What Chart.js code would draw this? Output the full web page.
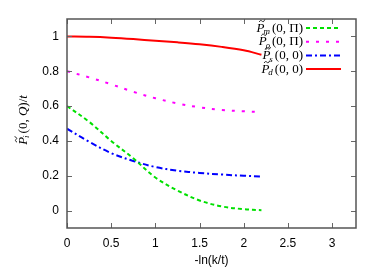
<!DOCTYPE html>
<html>
<head>
<meta charset="utf-8">
<script src="https://cdn.jsdelivr.net/npm/chart.js@4"></script>
<style>
  html, body { margin: 0; padding: 0; background: #fff; }
  #wrap { width: 382px; height: 268px; }
</style>
</head>
<body>
<div id="wrap"><canvas id="myChart" width="382" height="268"></canvas></div>
<script>
// Dados
const xVals = [0, 0.25, 0.5, 0.75, 1.0, 1.25, 1.5, 1.75, 2.0, 2.2];
const pm = [0.60, 0.51, 0.40, 0.30, 0.19, 0.115, 0.058, 0.024, 0.008, 0.002];
const prho = [0.80, 0.765, 0.725, 0.682, 0.645, 0.615, 0.593, 0.578, 0.570, 0.565];
const ps = [0.47, 0.395, 0.33, 0.285, 0.25, 0.229, 0.216, 0.207, 0.200, 0.196];
const pd = [1.0, 0.998, 0.993, 0.985, 0.975, 0.966, 0.955, 0.94, 0.92, 0.895];
const xTicks = [0, 0.5, 1, 1.5, 2, 2.5, 3];
const yTicks = [0, 0.2, 0.4, 0.6, 0.8, 1];

const pts = arr => arr.map((v, i) => ({ x: xVals[i], y: v }));

// rótulos da legenda: [índice, partes do argumento (texto, itálico)]
const legendLabels = [
    ['m', [['(0, \u03A0)', false]]],
    ['\u03C1', [['(0, \u03A0)', false]]],
    ['s', [['(0, 0)', false]]],
    ['d', [['(0, 0)', false]]]
];
const yTitle = ['i', [['(0, ', false], ['Q', true], [')/', false], ['t', true]]];

const data = {
    datasets: [
        { data: pts(pm), borderColor: '#00e000', borderDash: [4, 3], borderWidth: 2 },
        { data: pts(prho), borderColor: '#ff00ff', borderDash: [3, 7], borderWidth: 2 },
        { data: pts(ps), borderColor: '#0000ff', borderDash: [6, 3, 2, 3], borderWidth: 2 },
        { data: pts(pd), borderColor: '#ff0000', borderWidth: 2 }
    ]
};

const serif = '"Liberation Serif", "DejaVu Serif", serif';

// escreve P̃ com subíndice
function drawP(ctx, sub, parts, x, y, size, align) {
    const it = 'italic ' + size + 'px ' + serif;
    const up = size + 'px ' + serif;
    const small = 'italic ' + Math.round(size * 0.72) + 'px ' + serif;
    ctx.font = it;
    const wP = ctx.measureText('P').width;
    ctx.font = small;
    const wSub = ctx.measureText(sub).width;
    let wArg = 0;
    parts.forEach(p => { ctx.font = p[1] ? it : up; wArg += ctx.measureText(p[0]).width; });
    const total = wP + wSub + 1 + wArg;
    let x0 = align === 'right' ? x - total : (align === 'center' ? x - total / 2 : x);
    ctx.textBaseline = 'alphabetic';
    ctx.textAlign = 'left';
    const base = y + size * 0.35;
    ctx.font = it;
    ctx.fillText('P', x0, base);
    // til sobre o P
    const tx = x0 + wP * 0.35, ty = base - size * 0.83, tw = size * 0.42, th = size * 0.09;
    ctx.save();
    ctx.lineWidth = 0.9;
    ctx.strokeStyle = ctx.fillStyle;
    ctx.beginPath();
    ctx.moveTo(tx, ty + th);
    ctx.bezierCurveTo(tx + tw * 0.25, ty - th * 1.5, tx + tw * 0.5, ty + th * 0.5, tx + tw * 0.6, ty + th * 0.6);
    ctx.bezierCurveTo(tx + tw * 0.75, ty + th * 1.5, tx + tw * 0.9, ty, tx + tw, ty - th);
    ctx.stroke();
    ctx.restore();
    ctx.font = small;
    ctx.fillText(sub, x0 + wP - 1, base + size * 0.2);
    let cx = x0 + wP + wSub + 1;
    parts.forEach(p => {
        ctx.font = p[1] ? it : up;
        ctx.fillText(p[0], cx, base);
        cx += ctx.measureText(p[0]).width;
    });
}

const decor = {
    id: 'decor',
    afterDraw(chart) {
        const ctx = chart.ctx;
        const a = chart.chartArea;
        const xs = chart.scales.x, ys = chart.scales.y;
        ctx.save();
        // ticks para dentro nos quatro lados
        ctx.strokeStyle = '#666';
        ctx.lineWidth = 1;
        ctx.beginPath();
        xs.ticks.forEach((t, i) => {
            const px = Math.round(xs.getPixelForTick(i)) + 0.5;
            ctx.moveTo(px, a.bottom); ctx.lineTo(px, a.bottom - 5);
            ctx.moveTo(px, a.top); ctx.lineTo(px, a.top + 5);
        });
        ys.ticks.forEach((t, i) => {
            const py = Math.round(ys.getPixelForTick(i)) + 0.5;
            ctx.moveTo(a.left, py); ctx.lineTo(a.left + 5, py);
            ctx.moveTo(a.right, py); ctx.lineTo(a.right - 5, py);
        });
        ctx.stroke();
        // moldura
        ctx.strokeStyle = '#555';
        ctx.lineWidth = 1.5;
        ctx.strokeRect(a.left, a.top, a.right - a.left, a.bottom - a.top);

        // título do eixo x
        ctx.fillStyle = '#000';
        ctx.font = '12px "Liberation Sans", Arial, sans-serif';
        ctx.textAlign = 'center';
        ctx.textBaseline = 'middle';
        ctx.fillText('-ln(k/t)', (a.left + a.right) / 2, 261);

        // título do eixo y
        ctx.save();
        ctx.translate(22, 120);
        ctx.rotate(-Math.PI / 2);
        drawP(ctx, yTitle[0], yTitle[1], 0, 0, 13, 'center');
        ctx.restore();

        // legenda
        chart.data.datasets.forEach((ds, i) => {
            const y = 27 + i * 13.7;
            ctx.fillStyle = '#000';
            drawP(ctx, legendLabels[i][0], legendLabels[i][1], 303, y, 13, 'right');
            ctx.strokeStyle = ds.borderColor;
            ctx.lineWidth = 2;
            ctx.setLineDash(ds.borderDash || []);
            ctx.beginPath();
            ctx.moveTo(306, y + 1);
            ctx.lineTo(341, y + 1);
            ctx.stroke();
            ctx.setLineDash([]);
        });
        ctx.restore();
    }
};

const config = {
    type: 'line',
    data: data,
    options: {
        responsive: false,
        animation: false,
        layout: { padding: { top: 19, right: 26, left: 0, bottom: 0 } },
        elements: { point: { radius: 0 }, line: { tension: 0.35 } },
        plugins: { legend: { display: false }, tooltip: { enabled: false } },
        scales: {
            x: {
                type: 'linear',
                min: 0,
                max: 3.27,
                afterBuildTicks: s => { s.ticks = xTicks.map(v => ({ value: v })); },
                afterFit: s => { s.height = 40; },
                grid: { display: false, drawTicks: false },
                border: { display: false },
                ticks: {
                    padding: 8,
                    color: '#000',
                    font: { family: '"Liberation Sans", Arial, sans-serif', size: 12 },
                    callback: v => String(v)
                }
            },
            y: {
                min: -0.1,
                max: 1.1,
                afterBuildTicks: s => { s.ticks = yTicks.map(v => ({ value: v })); },
                afterFit: s => { s.width = 67; },
                grid: { display: false, drawTicks: false },
                border: { display: false },
                ticks: {
                    padding: 8,
                    color: '#000',
                    font: { family: '"Liberation Sans", Arial, sans-serif', size: 12 },
                    callback: v => String(Math.round(v * 10) / 10)
                }
            }
        }
    },
    plugins: [decor]
};

new Chart(document.getElementById('myChart').getContext('2d'), config);
</script>
</body>
</html>
